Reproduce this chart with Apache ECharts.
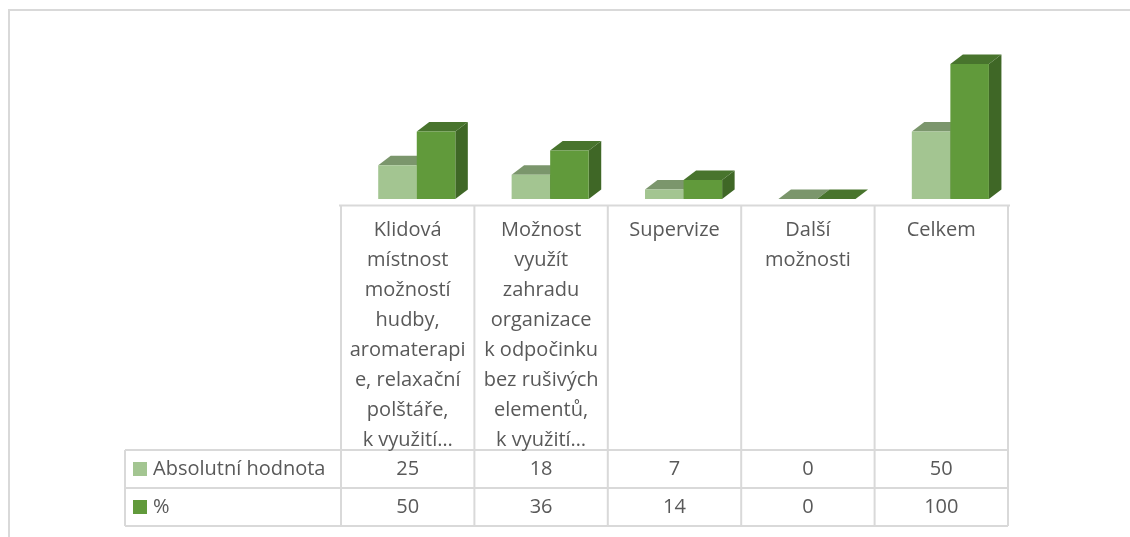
<!DOCTYPE html>
<html>
<head>
<meta charset="utf-8">
<script src="https://cdn.jsdelivr.net/npm/echarts@6/dist/echarts.min.js"></script>
<style>
  html, body { margin: 0; padding: 0; background: #fff; }
  #chart { width: 1130px; height: 537px; }
</style>
</head>
<body>
<div id="chart"></div>
<script>
// data
const categories = [
  'Klidová\nmístnost\nmožností\nhudby,\naromaterapi\ne, relaxační\npolštáře,\nk využití…',
  'Možnost\nvyužít\nzahradu\norganizace\nk odpočinku\nbez rušivých\nelementů,\nk využití…',
  'Supervize',
  'Další\nmožnosti',
  'Celkem'
];
const seriesNames = ['Absolutní hodnota', '%'];
const absValues = [25, 18, 7, 0, 50];
const pctValues = [50, 36, 14, 0, 100];

// colours: front, top, side
const palette = [
  { front: '#a3c591', top: '#7b966c', side: '#3f6726' },
  { front: '#619a3b', top: '#48742d', side: '#3f6726' }
];

const FONT = '"Open Sans"';
const FSIZE = 20;
const TEXT = '#595959';
const LINE = '#d9d9d9';

// table layout
const gridLeft = 341, gridRight = 1008;
const tableTop = 205.5, rowTops = [450, 488, 526], tableLeft = 125;
const colW = (gridRight - gridLeft) / categories.length;

function renderBar(si) {
  return function (params, api) {
    const idx = api.value(0);
    const val = api.value(1);
    const base = api.coord([idx, 0]);
    const top = api.coord([idx, val]);
    const band = api.size([1, 0])[0];
    const w = band * 0.289;
    const shift = band * 0.068;
    const dx = 12.5, dy = 9.5;
    const x0 = base[0] + shift + (si === 0 ? -w : 0);
    const x1 = x0 + w;
    const yt = top[1], yb = base[1];
    const c = palette[si];
    return {
      type: 'group',
      children: [
        {
          type: 'polygon',
          shape: { points: [[x1, yt], [x1 + dx, yt - dy], [x1 + dx, yb - dy], [x1, yb]] },
          style: { fill: c.side }
        },
        {
          type: 'polygon',
          shape: { points: [[x0, yt], [x1, yt], [x1 + dx, yt - dy], [x0 + dx, yt - dy]] },
          style: { fill: c.top }
        },
        {
          type: 'rect',
          shape: { x: x0, y: yt, width: w, height: yb - yt },
          style: { fill: c.front }
        }
      ]
    };
  };
}

const graphics = [];
function hline(x1, x2, y) {
  graphics.push({ type: 'line', silent: true, shape: { x1: x1, y1: y, x2: x2, y2: y }, style: { stroke: LINE, lineWidth: 2 } });
}
function vline(x, y1, y2) {
  graphics.push({ type: 'line', silent: true, shape: { x1: x, y1: y1, x2: x, y2: y2 }, style: { stroke: LINE, lineWidth: 2 } });
}

// outer frame
graphics.push({ type: 'rect', silent: true, shape: { x: 9, y: 10, width: 1130, height: 540 }, style: { fill: null, stroke: LINE, lineWidth: 2 } });

// table grid
hline(339, gridRight + 2, tableTop);
rowTops.forEach(y => hline(tableLeft, gridRight, y));
for (let i = 0; i <= categories.length; i++) {
  vline(gridLeft + i * colW, tableTop, rowTops[2]);
}
vline(tableLeft, rowTops[0], rowTops[2]);

// rows: legend key, name, values
[absValues, pctValues].forEach((vals, r) => {
  const cy = (rowTops[r] + (rowTops[r + 1] || rowTops[r] + 38)) / 2;
  graphics.push({ type: 'rect', silent: true, shape: { x: 133, y: cy - 7, width: 14, height: 14 }, style: { fill: palette[r].front } });
  graphics.push({
    type: 'text', silent: true, x: 153, y: cy,
    style: { text: seriesNames[r], font: FSIZE + 'px ' + FONT, fill: TEXT, textAlign: 'left', textVerticalAlign: 'middle' }
  });
  vals.forEach((v, i) => {
    graphics.push({
      type: 'text', silent: true, x: gridLeft + (i + 0.5) * colW, y: cy,
      style: { text: String(v), font: FSIZE + 'px ' + FONT, fill: TEXT, textAlign: 'center', textVerticalAlign: 'middle' }
    });
  });
});

const chart = echarts.init(document.getElementById('chart'));
chart.setOption({
  animation: false,
  backgroundColor: '#fff',
  grid: { left: gridLeft, right: 1130 - gridRight, top: 64, bottom: 537 - 199 },
  xAxis: {
    type: 'category',
    data: categories,
    axisLine: { show: false },
    axisTick: { show: false },
    axisLabel: {
      interval: 0,
      margin: 16,
      color: TEXT,
      fontFamily: FONT,
      fontSize: FSIZE,
      lineHeight: 30
    }
  },
  yAxis: { type: 'value', min: 0, max: 100, show: false },
  series: [absValues, pctValues].map((vals, si) => ({
    type: 'custom',
    name: seriesNames[si],
    renderItem: renderBar(si),
    encode: { x: 0, y: 1 },
    data: vals.map((v, i) => [i, v])
  })),
  graphic: graphics
});
</script>
</body>
</html>
